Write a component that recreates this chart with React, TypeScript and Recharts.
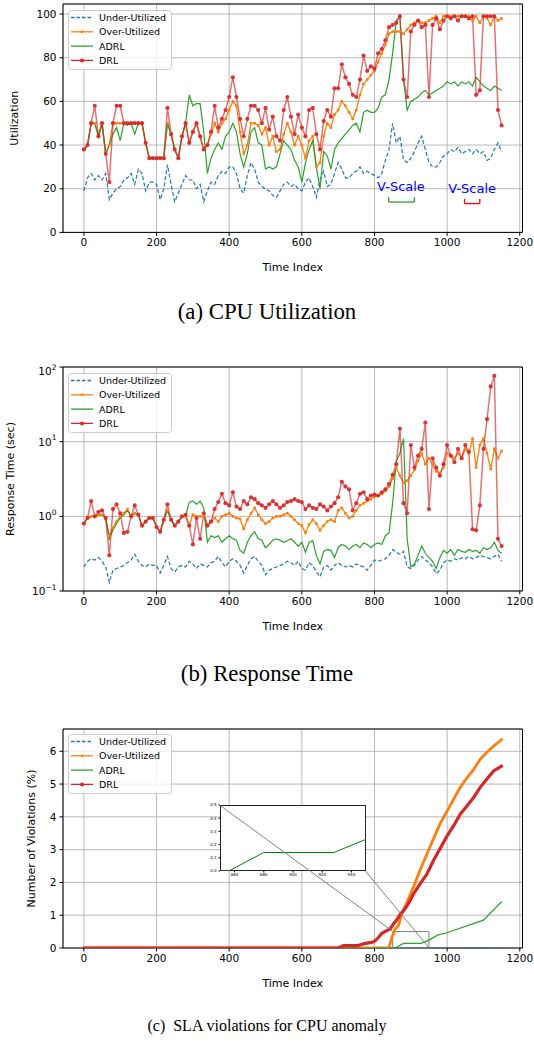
import React from 'react';
import {
  LineChart,
  Line,
  XAxis,
  YAxis,
  CartesianGrid,
  Legend,
  ReferenceArea,
  ReferenceLine,
  ReferenceDot,
} from 'recharts';

const BLUE = '#1f77b4';
const ORANGE = '#ff7f0e';
const GREEN = '#2ca02c';
const RED = '#d62728';
const FONT = '"DejaVu Sans", sans-serif';

// time index is sampled every STEP points
const STEP = 10;
const X_TICKS = [0, 200, 400, 600, 800, 1000, 1200];
const X_DOMAIN: [number, number] = [-57.5, 1207.5];

// (a) CPU utilization, t = 0..1150
const cpuUnder = [
  19, 25, 27, 24, 26, 24, 27, 15, 18, 20,
  21, 24, 25, 27, 22, 29, 27, 19, 23, 23,
  22, 15, 20, 31, 22, 14, 18, 22, 26, 24,
  24, 20, 22, 14, 19, 23, 22, 26, 28, 27,
  30, 30, 27, 20, 18, 26, 32, 29, 23, 21,
  20, 19, 17, 16, 19, 22, 23, 21, 22, 20,
  19, 23, 25, 21, 16, 24, 28, 21, 22, 27,
  32, 29, 25, 25, 27, 28, 30, 27, 28, 27,
  26, 25, 27, 33, 38, 50, 41, 44, 33, 32,
  34, 37, 41, 44, 38, 32, 30, 30, 32, 35,
  36, 38, 37, 39, 36, 37, 38, 36, 38, 36,
  37, 33, 34, 38, 41, 37,
];
const cpuOver = [
  38, 40, 50, 50, 44, 50, 36, 40, 50, 50,
  50, 50, 50, 50, 50, 50, 50, 41, 34, 34,
  34, 34, 34, 50, 45, 38, 34, 44, 50, 41,
  46, 50, 44, 38, 40, 45, 50, 46, 50, 52,
  56, 60, 58, 46, 36, 40, 50, 50, 49, 45,
  48, 40, 44, 37, 38, 45, 50, 46, 40, 44,
  40, 34, 42, 44, 30, 32, 44, 50, 48, 54,
  56, 60, 58, 55, 52, 56, 63, 68, 70, 72,
  74, 78, 82, 86, 91, 92, 92, 92, 91, 93,
  95, 96, 97, 96, 96, 97, 98, 99, 96, 99,
  99, 99, 99, 99, 99, 99, 99, 97, 99, 96,
  99, 98, 95, 99, 97, 98,
];
const cpuAdrl = [
  38, 40, 50, 50, 44, 50, 36, 40, 45, 48,
  42, 50, 49, 50, 45, 50, 50, 41, 34, 34,
  34, 34, 34, 50, 45, 38, 34, 44, 50, 63,
  58, 59, 59, 46, 27, 34, 38, 41, 38, 44,
  46, 50, 46, 36, 30, 36, 46, 48, 41, 40,
  29, 30, 29, 30, 36, 42, 40, 38, 33, 30,
  23, 32, 38, 42, 30, 20, 37, 35, 29, 38,
  41, 43, 45, 47, 49, 50, 46, 55, 56, 55,
  55, 57, 62, 63, 70, 82, 97, 99, 70, 56,
  60, 61, 62, 64, 65, 63, 64, 65, 66, 67,
  69, 68, 69, 67, 69, 68, 69, 67, 71, 69,
  67, 66, 65, 67, 66, 65,
];
const cpuDrl = [
  38, 40, 50, 58, 44, 50, 36, 23, 50, 58,
  58, 50, 50, 50, 50, 50, 50, 41, 34, 34,
  34, 34, 34, 57, 45, 38, 34, 44, 50, 41,
  46, 50, 44, 38, 40, 46, 58, 48, 52, 56,
  62, 71, 62, 52, 44, 52, 58, 58, 56, 50,
  57, 47, 53, 44, 42, 56, 62, 53, 45, 54,
  48, 44, 56, 57, 45, 38, 51, 56, 53, 66,
  66, 77, 71, 68, 63, 62, 70, 81, 74, 76,
  75, 82, 84, 88, 94, 95, 96, 99, 70, 62,
  92, 95, 97, 94, 95, 62, 95, 98, 93, 97,
  99, 98, 99, 97, 99, 99, 98, 99, 63, 65,
  99, 99, 99, 99, 56, 49,
];

// (b) response time in seconds, t = 0..1150
const rtUnder = [
  0.21, 0.25, 0.27, 0.26, 0.28, 0.25, 0.21, 0.13, 0.19, 0.2,
  0.21, 0.22, 0.24, 0.26, 0.31, 0.25, 0.22, 0.21, 0.23, 0.22,
  0.22, 0.175, 0.22, 0.29, 0.2, 0.18, 0.21, 0.22, 0.21, 0.25,
  0.23, 0.2, 0.23, 0.22, 0.21, 0.24, 0.25, 0.29, 0.24, 0.21,
  0.25, 0.27, 0.25, 0.22, 0.175, 0.22, 0.27, 0.29, 0.25, 0.22,
  0.165, 0.19, 0.2, 0.21, 0.22, 0.23, 0.25, 0.24, 0.22, 0.25,
  0.2, 0.19, 0.24, 0.22, 0.18, 0.155, 0.21, 0.22, 0.19, 0.22,
  0.24, 0.22, 0.21, 0.22, 0.21, 0.23, 0.22, 0.21, 0.19, 0.22,
  0.26, 0.25, 0.26, 0.27, 0.3, 0.36, 0.33, 0.31, 0.34, 0.21,
  0.2, 0.22, 0.26, 0.29, 0.26, 0.24, 0.21, 0.17, 0.19, 0.24,
  0.26, 0.25, 0.27, 0.26, 0.28, 0.27, 0.29, 0.27, 0.28, 0.3,
  0.29, 0.28, 0.27, 0.29, 0.31, 0.25,
];
const rtOver = [
  0.8, 0.95, 1.0, 1.0, 1.05, 1.05, 0.95, 0.55, 0.7, 0.85,
  1.0, 1.1, 1.25, 1.0, 1.1, 1.05, 0.75, 0.85, 0.95, 0.95,
  0.72, 0.62, 0.9, 1.2, 0.9, 0.75, 0.85, 1.0, 1.0, 0.75,
  1.05, 1.0, 1.0, 1.0, 0.75, 0.85, 0.95, 0.85, 1.0, 1.05,
  1.1, 1.0, 0.95, 0.92, 0.68, 0.9, 1.1, 1.3, 1.05, 0.9,
  0.8, 0.85, 0.95, 1.0, 1.0, 1.05, 1.1, 1.0, 0.9, 0.8,
  0.75, 0.6, 0.78, 0.9, 0.8, 0.65, 0.75, 0.85, 0.9, 0.85,
  1.2, 1.3, 1.1, 0.95, 1.0, 1.2, 1.4, 1.5, 1.6, 1.7,
  1.85, 1.9, 2.0, 2.2, 2.5, 3.2, 4.5, 3.5, 2.8, 3.0,
  3.5, 4.2, 5.5, 7, 5, 6, 5, 4, 3.8, 4.5,
  7, 6.5, 6, 7, 6, 8, 7, 11, 4.5, 9,
  11, 7, 4.3, 8, 6, 7.5,
];
const rtAdrl = [
  0.8, 0.95, 1.0, 1.0, 1.05, 1.05, 0.95, 0.5, 0.65, 0.8,
  0.95, 1.05, 1.2, 1.0, 1.1, 1.05, 0.75, 0.85, 0.95, 0.95,
  0.72, 0.62, 0.9, 1.2, 0.9, 0.75, 0.85, 1.0, 1.0, 1.55,
  1.6, 1.45, 1.6, 1.3, 0.45, 0.55, 0.52, 0.55, 0.45, 0.5,
  0.55, 0.5, 0.48, 0.35, 0.32, 0.45, 0.55, 0.62, 0.5, 0.48,
  0.38, 0.42, 0.48, 0.5, 0.48, 0.45, 0.47, 0.5, 0.45, 0.4,
  0.45, 0.33, 0.45, 0.47, 0.3, 0.23, 0.34, 0.36, 0.35, 0.28,
  0.38, 0.42, 0.4, 0.36, 0.4, 0.42, 0.38, 0.44, 0.42, 0.38,
  0.42, 0.44, 0.42, 0.55, 0.6, 1.5, 5.5, 7, 11, 0.5,
  0.21, 0.23, 0.3, 0.4, 0.32, 0.28, 0.25, 0.2, 0.28, 0.35,
  0.32, 0.36, 0.3, 0.36, 0.34, 0.33, 0.36, 0.34, 0.35, 0.32,
  0.38, 0.36, 0.38, 0.45, 0.35, 0.32,
];
const rtDrl = [
  0.8, 0.95, 1.6, 1.0, 1.15, 1.2, 0.95, 0.3, 1.25, 1.45,
  1.1, 0.6, 0.62, 1.0, 1.4, 1.05, 0.75, 0.85, 0.95, 0.95,
  0.72, 0.62, 0.9, 1.45, 0.9, 0.75, 0.85, 1.0, 1.05, 0.75,
  0.42, 0.95, 0.5, 1.1, 0.75, 0.85, 1.25, 1.55, 2.0, 1.5,
  1.4, 2.1, 1.35, 1.25, 1.6, 1.45, 1.8, 1.7, 1.5, 1.4,
  1.3, 1.45, 1.6, 1.45, 1.3, 1.4, 1.55, 1.6, 1.7, 1.6,
  1.55, 1.25, 1.4, 1.3, 1.25, 1.45, 1.35, 1.2, 1.35, 1.5,
  1.8, 2.9, 2.5, 2.3, 1.2, 1.5, 2.0, 2.1, 1.7, 1.9,
  1.95, 1.9, 2.1, 2.3, 2.7, 3.6, 5, 15, 1.5, 1.1,
  9, 4.5, 6.5, 8, 18, 1.25, 6, 4.5, 3.5, 5,
  9, 6.5, 5.3, 8, 6, 9, 7.3, 0.67, 0.65, 1.4,
  8, 20, 55, 76, 0.5, 0.4,
];

// (c) cumulative SLA violations (%), breakpoints of each curve
const slaUnderT = [0, 1150];
const slaUnderV = [0, 0];
const slaOverT = [0, 840, 848, 857, 866, 875, 889, 907, 925, 944, 962, 980, 1000, 1018, 1036, 1055, 1073, 1091, 1109, 1128, 1150];
const slaOverV = [0, 0, 0.33, 0.58, 0.68, 1.03, 1.39, 1.85, 2.36, 2.86, 3.32, 3.78, 4.18, 4.54, 4.9, 5.2, 5.45, 5.76, 5.96, 6.16, 6.36];
const slaAdrlT = [0, 852, 856, 880, 928, 950, 975, 995, 1100, 1150];
const slaAdrlV = [0, 0, 0, 0.14, 0.14, 0.24, 0.4, 0.45, 0.85, 1.41];
const slaDrlT = [0, 700, 715, 752, 775, 793, 802, 811, 820, 834, 843, 852, 861, 871, 880, 889, 898, 907, 925, 944, 962, 980, 1000, 1018, 1036, 1055, 1073, 1091, 1109, 1128, 1150];
const slaDrlV = [0, 0, 0.07, 0.07, 0.14, 0.17, 0.22, 0.32, 0.45, 0.53, 0.58, 0.73, 0.85, 1.03, 1.14, 1.28, 1.44, 1.64, 1.95, 2.25, 2.66, 3.02, 3.42, 3.73, 4.08, 4.34, 4.59, 4.9, 5.15, 5.4, 5.55];

const INSET_X_TICKS = [860, 880, 900, 920, 940];
const INSET_Y_TICKS = [0, 0.1, 0.2, 0.3, 0.4, 0.5];

const timeIndex = cpuUnder.map((_, i) => i * STEP);
const cpuData = timeIndex.map((t, i) => ({
  t,
  under: cpuUnder[i],
  over: cpuOver[i],
  adrl: cpuAdrl[i],
  drl: cpuDrl[i],
}));
const rtData = timeIndex.map((t, i) => ({
  t,
  under: rtUnder[i],
  over: rtOver[i],
  adrl: rtAdrl[i],
  drl: rtDrl[i],
}));
const pairs = (ts: number[], vs: number[]) => ts.map((t, i) => ({ t, v: vs[i] }));
const slaUnder = pairs(slaUnderT, slaUnderV);
const slaOver = pairs(slaOverT, slaOverV);
const slaAdrl = pairs(slaAdrlT, slaAdrlV);
const slaDrl = pairs(slaDrlT, slaDrlV);

// layout
const PAGE_W = 534;
const PAGE_H = 1042;
const PLOT_LEFT = 63;
const PLOT_RIGHT = 522.5;
const PLOT_W = PLOT_RIGHT - PLOT_LEFT;
const AXIS_H = 45;
const PAD_TOP = 5;
const MARGIN = { top: PAD_TOP, right: PAGE_W - PLOT_RIGHT, bottom: 0, left: 0 };

const PANEL_A = { top: 4.3, h: 228.4, ymax: 104.6 };
const PANEL_B = { top: 367, h: 224 };
const PANEL_C = { top: 728.7, h: 219, ymax: 6.68 };
const INSET = { left: 219.5, top: 805, w: 146, h: 66 };
const INSET_PAD = 4;

const tickStyle = { fontSize: 10.5, fill: '#000', fontFamily: FONT };

const xAxisProps = {
  dataKey: 't',
  type: 'number' as const,
  domain: X_DOMAIN,
  ticks: X_TICKS,
  allowDataOverflow: true,
  interval: 0 as const,
  axisLine: false,
  tickLine: { stroke: '#000' },
  tickSize: 3.5,
  tickMargin: 3,
  tick: tickStyle,
  height: AXIS_H,
};

const xTitle = (props: any) => {
  const vb = props.viewBox;
  return (
    <text x={vb.x + vb.width / 2} y={vb.y + 38.5} textAnchor="middle" fontSize={11} fontFamily={FONT} fill="#000">
      Time Index
    </text>
  );
};

const yTitle = (text: string, x: number) => (props: any) => {
  const vb = props.viewBox;
  const cy = vb.y + vb.height / 2;
  return (
    <text
      x={x}
      y={cy}
      transform={`rotate(-90 ${x} ${cy})`}
      textAnchor="middle"
      dominantBaseline="central"
      fontSize={11}
      fontFamily={FONT}
      fill="#000"
    >
      {text}
    </text>
  );
};

const LogTick = (props: any) => {
  const { x, y, payload } = props;
  const exp = Math.round(Math.log10(payload.value));
  return (
    <text x={x} y={y} textAnchor="end" dominantBaseline="central" fontSize={10.5} fontFamily={FONT} fill="#000">
      10
      <tspan dy={-4.5} fontSize={7.5}>
        {exp < 0 ? `\u2212${-exp}` : exp}
      </tspan>
    </text>
  );
};

const SquareDot = (props: any) => {
  const { cx, cy, index } = props;
  if (cx == null || cy == null) return <g key={index} />;
  return <rect key={index} x={cx - 1.3} y={cy - 1.3} width={2.6} height={2.6} fill={ORANGE} />;
};

const legendItems = [
  { name: 'Under-Utilized', color: BLUE, dash: '3.5 2', marker: '' },
  { name: 'Over-Utilized', color: ORANGE, dash: undefined, marker: 'square' },
  { name: 'ADRL', color: GREEN, dash: undefined, marker: '' },
  { name: 'DRL', color: RED, dash: undefined, marker: 'circle' },
];

const LegendBox = () => (
  <svg width={104} height={60} style={{ display: 'block' }}>
    <rect x={0.5} y={0.5} width={103} height={59} rx={3} fill="#fff" fillOpacity={0.8} stroke="#cccccc" />
    {legendItems.map((e, i) => {
      const y = 7.5 + i * 14.3;
      return (
        <g key={e.name}>
          <line x1={3} x2={25} y1={y} y2={y} stroke={e.color} strokeWidth={1.3} strokeDasharray={e.dash} />
          {e.marker === 'square' && <rect x={12.8} y={y - 1.2} width={2.4} height={2.4} fill={e.color} />}
          {e.marker === 'circle' && <circle cx={14} cy={y} r={2} fill={e.color} />}
          <text x={31} y={y} dominantBaseline="central" fontSize={9.5} fontFamily={FONT} fill="#000">
            {e.name}
          </text>
        </g>
      );
    })}
  </svg>
);

const legend = (
  <Legend
    layout="vertical"
    align="center"
    verticalAlign="middle"
    wrapperStyle={{ left: PLOT_LEFT + 4.5, top: PAD_TOP + 5.5, width: 104, height: 60 }}
    content={() => <LegendBox />}
  />
);

const frame = (ymin: number, ymax: number) => (
  <ReferenceArea x1={X_DOMAIN[0]} x2={X_DOMAIN[1]} y1={ymin} y2={ymax} fill="none" stroke="#000" strokeWidth={1} ifOverflow="visible" />
);

const caption = (text: string, centerY: number, size: number) => (
  <div
    style={{
      position: 'absolute',
      left: 0,
      top: centerY - 12,
      width: PAGE_W,
      height: 24,
      lineHeight: '24px',
      textAlign: 'center',
      fontFamily: '"Liberation Serif", serif',
      fontSize: size,
      color: '#000',
      whiteSpace: 'pre',
    }}
  >
    {text}
  </div>
);

// maps for the zoom connector of panel (c)
const pxX = (t: number) => PLOT_LEFT + ((t - X_DOMAIN[0]) / (X_DOMAIN[1] - X_DOMAIN[0])) * PLOT_W;
const pxYc = (v: number) => PANEL_C.top + (1 - v / PANEL_C.ymax) * PANEL_C.h;

const drlDot = { r: 2.1, fill: RED, stroke: 'none', fillOpacity: 0.9 };

export default function App() {
  return (
    <div style={{ position: 'absolute', left: 0, top: 0, width: PAGE_W, height: PAGE_H, background: '#fff', fontFamily: FONT }}>
      {/* (a) CPU Utilization */}
      <div style={{ position: 'absolute', left: 0, top: PANEL_A.top - PAD_TOP }}>
        <LineChart width={PAGE_W} height={PANEL_A.h + PAD_TOP + AXIS_H} margin={MARGIN} data={cpuData}>
          <CartesianGrid stroke="#b0b0b0" strokeWidth={0.9} />
          <XAxis {...xAxisProps} label={xTitle} />
          <YAxis
            type="number"
            domain={[0, PANEL_A.ymax]}
            ticks={[0, 20, 40, 60, 80, 100]}
            allowDataOverflow
            width={PLOT_LEFT}
            axisLine={false}
            tickLine={{ stroke: '#000' }}
            tickSize={3.5}
            tickMargin={3}
            tick={tickStyle}
            label={yTitle('Utilization', 14)}
          />
          {frame(0, PANEL_A.ymax)}
          <Line dataKey="under" stroke={BLUE} strokeWidth={1.2} strokeDasharray="4 2.2" dot={false} activeDot={false} isAnimationActive={false} />
          <Line dataKey="over" stroke={ORANGE} strokeWidth={1.3} dot={SquareDot} activeDot={false} isAnimationActive={false} />
          <Line dataKey="adrl" stroke={GREEN} strokeWidth={1.2} dot={false} activeDot={false} isAnimationActive={false} />
          <Line dataKey="drl" stroke={RED} strokeWidth={1.5} strokeOpacity={0.65} dot={drlDot} activeDot={false} isAnimationActive={false} />
          <ReferenceLine segment={[{ x: 839, y: 13.9 }, { x: 910, y: 13.9 }]} stroke={GREEN} strokeWidth={1.3} />
          <ReferenceLine segment={[{ x: 839, y: 13.9 }, { x: 839, y: 16.1 }]} stroke={GREEN} strokeWidth={1.3} />
          <ReferenceLine segment={[{ x: 910, y: 13.9 }, { x: 910, y: 16.1 }]} stroke={GREEN} strokeWidth={1.3} />
          <ReferenceLine segment={[{ x: 1048, y: 13.2 }, { x: 1090, y: 13.2 }]} stroke="#ff0000" strokeWidth={1.3} />
          <ReferenceLine segment={[{ x: 1048, y: 13.2 }, { x: 1048, y: 15.3 }]} stroke="#ff0000" strokeWidth={1.3} />
          <ReferenceLine segment={[{ x: 1090, y: 13.2 }, { x: 1090, y: 15.3 }]} stroke="#ff0000" strokeWidth={1.3} />
          <ReferenceDot
            x={873}
            y={21.1}
            r={0}
            stroke="none"
            label={{ value: 'V-Scale', position: 'center', fill: '#0000ff', fontSize: 13, fontFamily: FONT }}
          />
          <ReferenceDot
            x={1069}
            y={20}
            r={0}
            stroke="none"
            label={{ value: 'V-Scale', position: 'center', fill: '#0000ff', fontSize: 13, fontFamily: FONT }}
          />
          {legend}
        </LineChart>
      </div>
      {caption('(a) CPU Utilization', 312, 22.8)}

      {/* (b) Response Time */}
      <div style={{ position: 'absolute', left: 0, top: PANEL_B.top - PAD_TOP }}>
        <LineChart width={PAGE_W} height={PANEL_B.h + PAD_TOP + AXIS_H} margin={MARGIN} data={rtData}>
          <CartesianGrid stroke="#b0b0b0" strokeWidth={0.9} />
          <XAxis {...xAxisProps} label={xTitle} />
          <YAxis
            scale="log"
            type="number"
            domain={[0.1, 100]}
            ticks={[0.1, 1, 10, 100]}
            allowDataOverflow
            width={PLOT_LEFT}
            axisLine={false}
            tickLine={{ stroke: '#000' }}
            tickSize={3.5}
            tickMargin={3}
            tick={LogTick}
            label={yTitle('Response Time (sec)', 10)}
          />
          {frame(0.1, 100)}
          <Line dataKey="under" stroke={BLUE} strokeWidth={1.2} strokeDasharray="4 2.2" dot={false} activeDot={false} isAnimationActive={false} />
          <Line dataKey="over" stroke={ORANGE} strokeWidth={1.3} dot={SquareDot} activeDot={false} isAnimationActive={false} />
          <Line dataKey="adrl" stroke={GREEN} strokeWidth={1.2} dot={false} activeDot={false} isAnimationActive={false} />
          <Line dataKey="drl" stroke={RED} strokeWidth={1.5} strokeOpacity={0.65} dot={drlDot} activeDot={false} isAnimationActive={false} />
          {legend}
        </LineChart>
      </div>
      {caption('(b) Response Time', 674, 22.8)}

      {/* (c) SLA violations */}
      <div style={{ position: 'absolute', left: 0, top: PANEL_C.top - PAD_TOP }}>
        <LineChart width={PAGE_W} height={PANEL_C.h + PAD_TOP + AXIS_H} margin={MARGIN}>
          <CartesianGrid stroke="#b0b0b0" strokeWidth={0.9} />
          <XAxis {...xAxisProps} label={xTitle} />
          <YAxis
            type="number"
            domain={[0, PANEL_C.ymax]}
            ticks={[0, 1, 2, 3, 4, 5, 6]}
            allowDataOverflow
            width={PLOT_LEFT}
            axisLine={false}
            tickLine={{ stroke: '#000' }}
            tickSize={3.5}
            tickMargin={3}
            tick={tickStyle}
            label={yTitle('Number of Violations (%)', 31)}
          />
          {frame(0, PANEL_C.ymax)}
          <ReferenceArea x1={850} x2={950} y1={0} y2={0.5} fill="none" stroke="#808080" strokeWidth={1} />
          <Line data={slaUnder} dataKey="v" stroke={BLUE} strokeWidth={1.2} strokeDasharray="4 2.2" dot={false} activeDot={false} isAnimationActive={false} />
          <Line data={slaOver} dataKey="v" stroke={ORANGE} strokeWidth={2.8} strokeLinecap="round" dot={false} activeDot={false} isAnimationActive={false} />
          <Line data={slaAdrl} dataKey="v" stroke={GREEN} strokeWidth={1.2} dot={false} activeDot={false} isAnimationActive={false} />
          <Line data={slaDrl} dataKey="v" stroke={RED} strokeWidth={3.2} strokeLinecap="round" dot={false} activeDot={false} isAnimationActive={false} />
          {legend}
        </LineChart>
      </div>

      {/* zoomed inset of ADRL near the first violations */}
      <div
        style={{
          position: 'absolute',
          left: INSET.left,
          top: INSET.top,
          width: INSET.w,
          height: INSET.h,
          background: '#fff',
          border: '1.2px solid #222',
          boxSizing: 'border-box',
        }}
      />
      <div style={{ position: 'absolute', left: INSET.left - 16, top: INSET.top - INSET_PAD }}>
        <LineChart width={INSET.w + 16} height={INSET.h + 8 + INSET_PAD} margin={{ top: INSET_PAD, right: 0, bottom: 0, left: 0 }}>
          <XAxis
            dataKey="t"
            type="number"
            domain={[850, 950]}
            ticks={INSET_X_TICKS}
            allowDataOverflow
            interval={0}
            height={8}
            axisLine={false}
            tickLine={{ stroke: '#000' }}
            tickSize={1.5}
            tickMargin={0.5}
            tick={{ fontSize: 4, fill: '#000', fontFamily: FONT }}
          />
          <YAxis
            type="number"
            domain={[0, 0.5]}
            ticks={INSET_Y_TICKS}
            allowDataOverflow
            interval={0}
            width={16}
            axisLine={false}
            tickLine={{ stroke: '#000' }}
            tickSize={1.5}
            tickMargin={2}
            tick={{ fontSize: 4, fill: '#000', fontFamily: FONT }}
            tickFormatter={(v: number) => v.toFixed(1)}
          />
          <Line data={slaAdrl} dataKey="v" stroke="#008000" strokeWidth={1} dot={false} activeDot={false} isAnimationActive={false} />
        </LineChart>
      </div>
      <svg width={PAGE_W} height={PAGE_H} style={{ position: 'absolute', left: 0, top: 0, pointerEvents: 'none' }}>
        <line x1={INSET.left} y1={INSET.top} x2={pxX(850)} y2={pxYc(0.5)} stroke="#808080" strokeWidth={1} />
        <line x1={INSET.left + INSET.w} y1={INSET.top + INSET.h} x2={pxX(950)} y2={pxYc(0)} stroke="#808080" strokeWidth={1} />
      </svg>
      {caption('(c)  SLA violations for CPU anomaly', 1026, 16)}
    </div>
  );
}
